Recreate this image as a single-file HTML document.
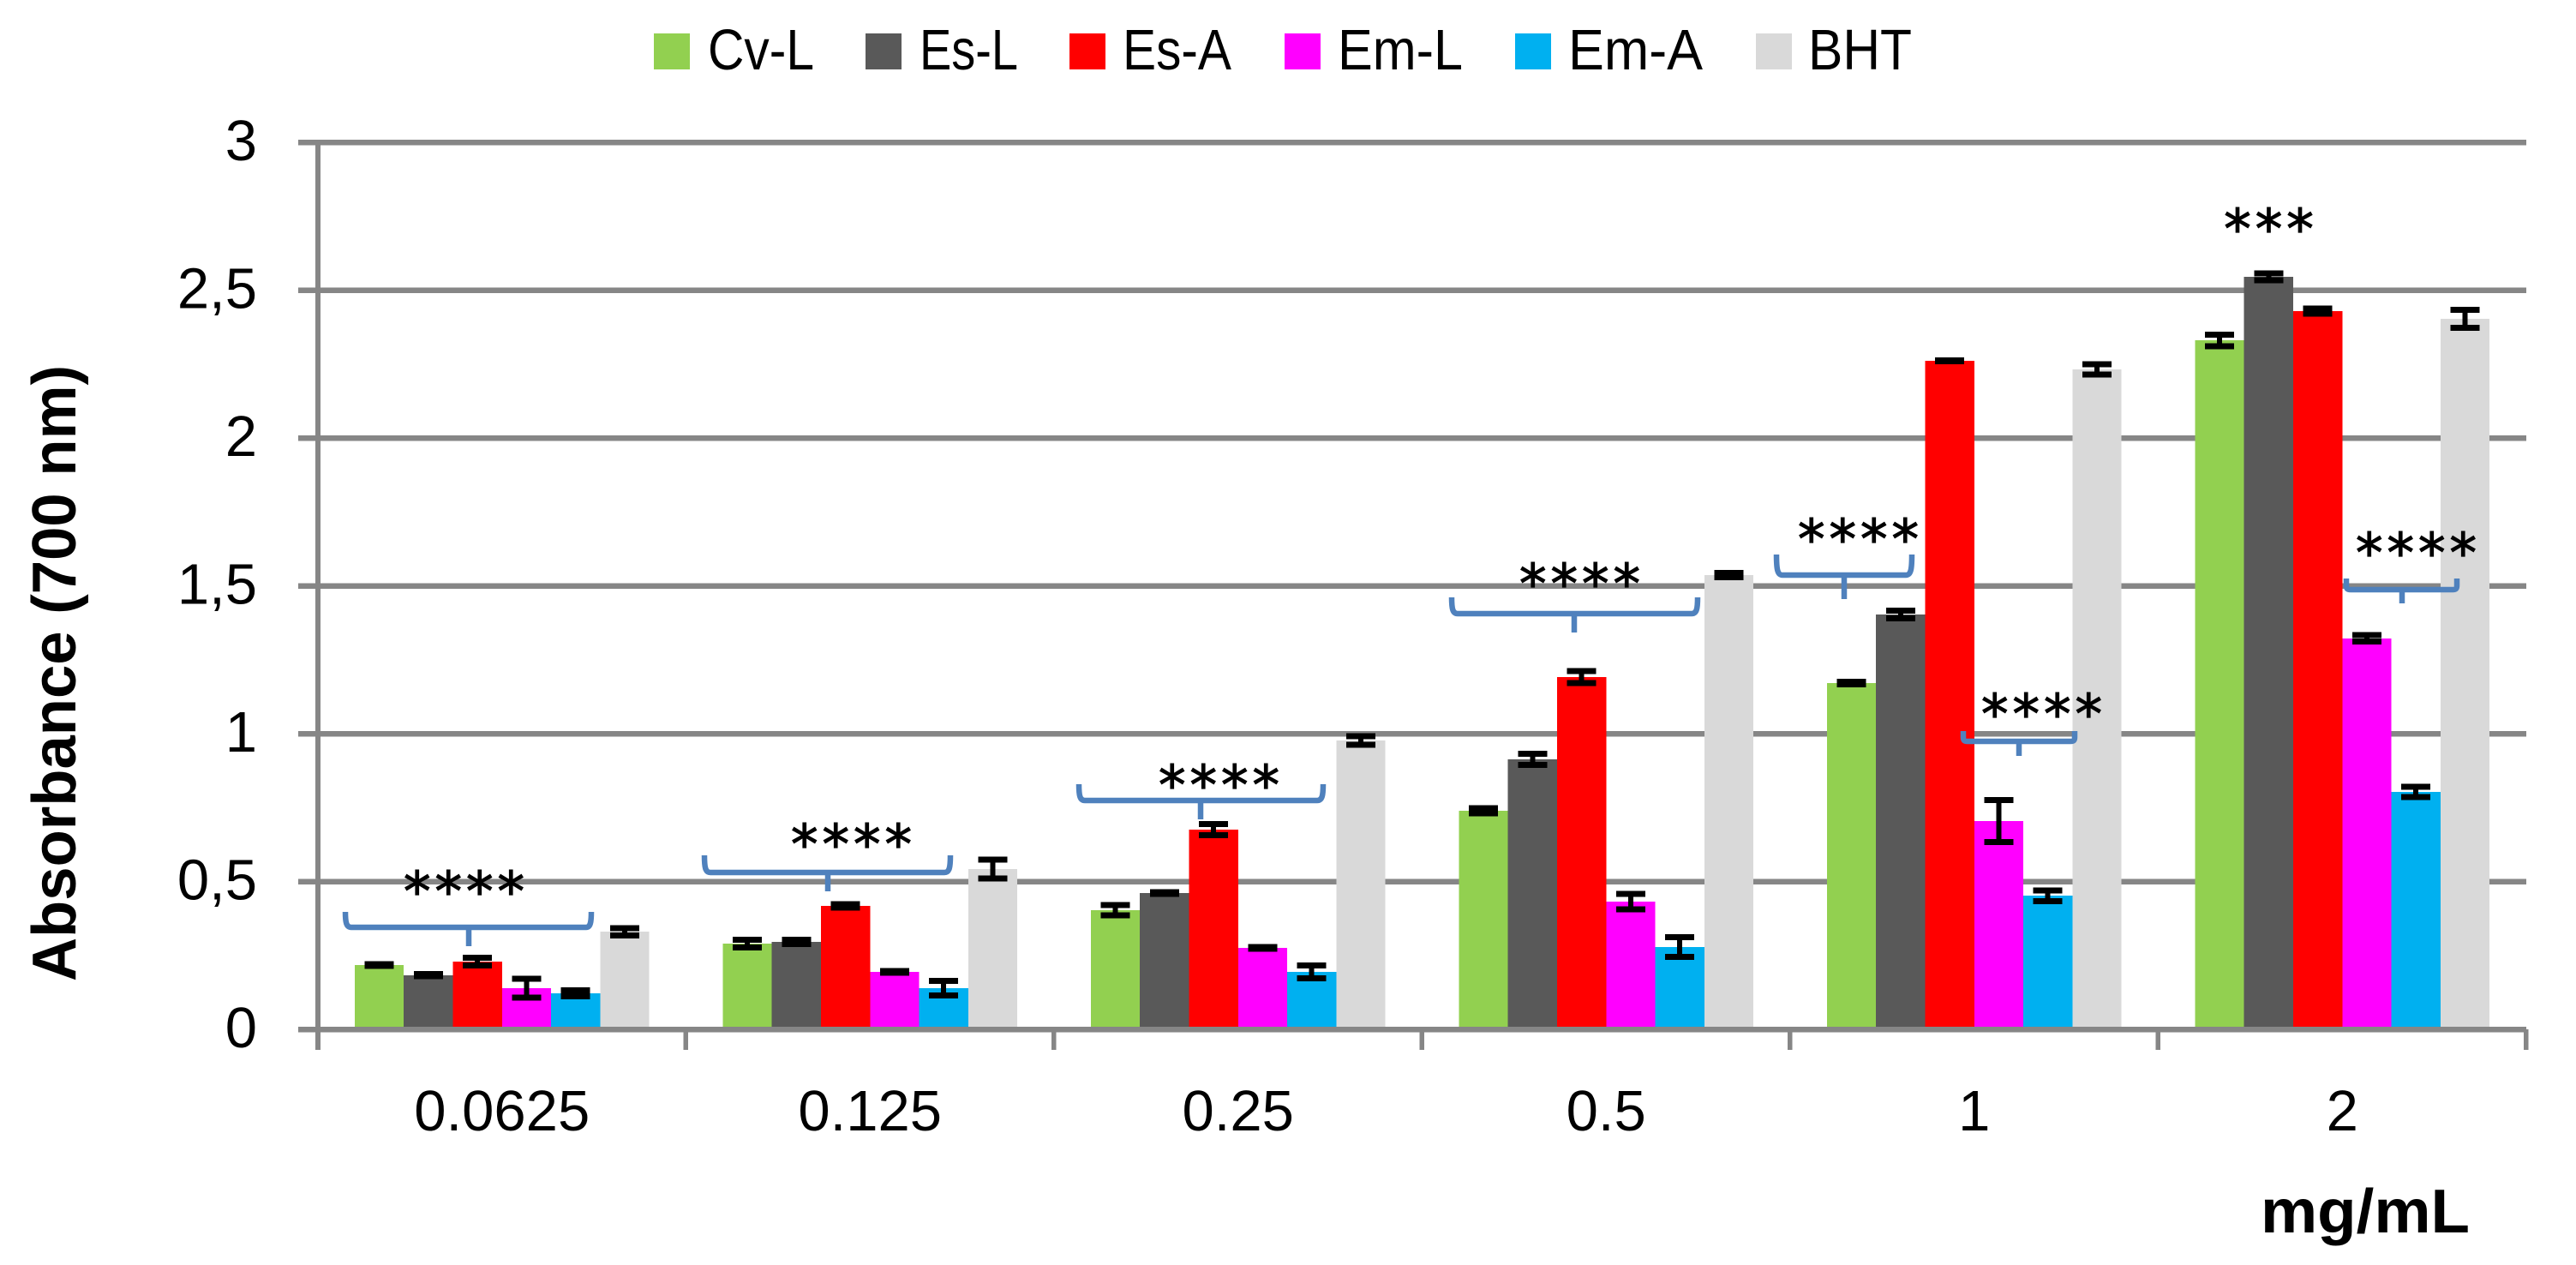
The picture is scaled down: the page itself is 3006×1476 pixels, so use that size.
<!DOCTYPE html>
<html lang="en">
<head>
<meta charset="utf-8">
<title>Absorbance chart</title>
<style>
html,body{margin:0;padding:0;background:#fff;}
svg{display:block;}
text{font-family:"Liberation Sans",sans-serif;fill:#000;}
.stars{font-family:"DejaVu Sans","Liberation Sans",sans-serif;font-size:63px;letter-spacing:5px;text-anchor:middle;stroke:#000;stroke-width:1.2px;}
.leg{font-size:67px;}
.br{fill:none;stroke:#4F81BD;stroke-width:6.5;}
</style>
</head>
<body>
<svg id="chart" xmlns="http://www.w3.org/2000/svg" width="3006" height="1476" viewBox="0 0 3006 1476">
  <g id="grid"></g>
  <g id="bars"></g>
  <g id="errs"></g>
  <g id="axes"></g>

  <g>
    <path class="br" d="M403 1064 C403 1076 404 1082 410 1082 H547 M684 1082 C689 1082 690 1076 690 1064 M410 1082 H684 M547 1082 V1104"/>
    <path class="br" d="M822 998 C822 1012 823 1018 829 1018 H1102 C1108 1018 1109 1012 1109 998 M966 1018 V1040"/>
    <path class="br" d="M1259 915 C1259 928 1260 934 1266 934 H1537 C1543 934 1544 928 1544 915 M1401 934 V956"/>
    <path class="br" d="M1694 697 C1694 710 1695 716 1701 716 H1974 C1980 716 1981 710 1981 697 M1837 716 V738"/>
    <path class="br" d="M2073 647 C2073 664 2074 671 2080 671 H2224 C2230 671 2231 664 2231 647 M2152 671 V699"/>
    <path class="br" d="M2291 853 V860 C2291 864 2292 865 2296 865 H2416 C2420 865 2421 864 2421 860 V853 M2356 865 V882"/>
    <path class="br" d="M2738 675 V683 C2738 687 2739 688 2743 688 H2862 C2866 688 2867 687 2867 683 V675 M2803 688 V704"/>
  </g>

  <g>
    <text class="stars" x="544" y="1062">****</text>
    <text class="stars" x="996" y="1007">****</text>
    <text class="stars" x="1425" y="938">****</text>
    <text class="stars" x="1846" y="703">****</text>
    <text class="stars" x="2171" y="651">****</text>
    <text class="stars" x="2385" y="855">****</text>
    <text class="stars" x="2822" y="667">****</text>
    <text class="stars" x="2650" y="289">***</text>
  </g>

  <g>
    <g><rect x="763" y="39" width="42" height="42" fill="#92D050"/><text class="leg" x="826" y="81" textLength="124" lengthAdjust="spacingAndGlyphs">Cv-L</text></g>
    <g><rect x="1010" y="39" width="42" height="42" fill="#595959"/><text class="leg" x="1073" y="81" textLength="115" lengthAdjust="spacingAndGlyphs">Es-L</text></g>
    <g><rect x="1248" y="39" width="42" height="42" fill="#FF0000"/><text class="leg" x="1310" y="81" textLength="127" lengthAdjust="spacingAndGlyphs">Es-A</text></g>
    <g><rect x="1499" y="39" width="42" height="42" fill="#FF00FF"/><text class="leg" x="1561" y="81" textLength="146" lengthAdjust="spacingAndGlyphs">Em-L</text></g>
    <g><rect x="1768" y="39" width="42" height="42" fill="#00B0F0"/><text class="leg" x="1830" y="81" textLength="157" lengthAdjust="spacingAndGlyphs">Em-A</text></g>
    <g><rect x="2049" y="39" width="42" height="42" fill="#D9D9D9"/><text class="leg" x="2110" y="81" textLength="121" lengthAdjust="spacingAndGlyphs">BHT</text></g>
  </g>

  <text transform="translate(88 1145) rotate(-90)" font-size="72" font-weight="700" textLength="719" lengthAdjust="spacingAndGlyphs">Absorbance (700 nm)</text>
  <text x="2638" y="1438" font-size="72" font-weight="700" textLength="244" lengthAdjust="spacingAndGlyphs">mg/mL</text>
</svg>
<script>
const categories = ['0.0625', '0.125', '0.25', '0.5', '1', '2'];
const seriesNames = ['Cv-L', 'Es-L', 'Es-A', 'Em-L', 'Em-A', 'BHT'];
const yTickValues = [0, 0.5, 1, 1.5, 2, 2.5, 3];
const yTickLabels = ['0', '0,5', '1', '1,5', '2', '2,5', '3'];

const cvL = [0.217, 0.290, 0.403, 0.739, 1.171, 2.330];
const esL = [0.183, 0.296, 0.461, 0.913, 1.403, 2.545];
const esA = [0.229, 0.417, 0.675, 1.191, 2.261, 2.429];
const emL = [0.139, 0.194, 0.275, 0.432, 0.704, 1.322];
const emA = [0.122, 0.139, 0.194, 0.278, 0.452, 0.803];
const bht = [0.330, 0.542, 0.977, 1.536, 2.232, 2.403];

const cvLErr = [0.003, 0.013, 0.017, 0.009, 0.005, 0.020];
const esLErr = [0.004, 0.007, 0.003, 0.019, 0.013, 0.012];
const esAErr = [0.013, 0.006, 0.019, 0.020, 0.002, 0.008];
const emLErr = [0.032, 0.003, 0.003, 0.026, 0.071, 0.011];
const emAErr = [0.010, 0.025, 0.022, 0.033, 0.018, 0.018];
const bhtErr = [0.012, 0.032, 0.014, 0.007, 0.018, 0.030];

const seriesValues = [cvL, esL, esA, emL, emA, bht];
const seriesErrors = [cvLErr, esLErr, esAErr, emLErr, emAErr, bhtErr];
const seriesColors = ['#92D050', '#595959', '#FF0000', '#FF00FF', '#00B0F0', '#D9D9D9'];

const NS = 'http://www.w3.org/2000/svg';
const AXIS = '#868686';
const PLOT_LEFT = 371, PLOT_RIGHT = 2948, Y_ZERO = 1201, Y_MAX_PX = 166, Y_MAX = 3;
const catWidth = (PLOT_RIGHT - PLOT_LEFT) / categories.length;
const barWidth = catWidth / (seriesNames.length + 1.5);

function yScale(v) { return Y_ZERO - (v / Y_MAX) * (Y_ZERO - Y_MAX_PX); }
function xCat(i) { return PLOT_LEFT + i * catWidth; }
function xBar(i, s) { return xCat(i) + 0.75 * barWidth + s * barWidth; }

function mk(tag, parent) {
  const el = document.createElementNS(NS, tag);
  parent.appendChild(el);
  return el;
}
function setRect(el, x, y, w, h, fill) {
  el.setAttribute('x', x);
  el.setAttribute('y', y);
  el.setAttribute('width', w);
  el.setAttribute('height', h);
  el.setAttribute('fill', fill);
  el.setAttribute('shape-rendering', 'crispEdges');
}

const grid = document.getElementById('grid');
const barsG = document.getElementById('bars');
const errsG = document.getElementById('errs');
const axes = document.getElementById('axes');

yTickValues.forEach(function (v, i) {
  if (v !== 0) {
    const line = mk('rect', grid);
    setRect(line, 348, yScale(v) - 3.2, PLOT_RIGHT - 348, 6.5, AXIS);
    
    
  }
  const label = mk('text', axes);
  label.setAttribute('x', 300);
  label.setAttribute('y', yScale(v) + 21);
  label.setAttribute('font-size', '67');
  label.setAttribute('text-anchor', 'end');
  label.textContent = yTickLabels[i];
  
  
});

const yAxisLine = mk('rect', grid);
setRect(yAxisLine, PLOT_LEFT - 3, Y_MAX_PX, 6, 1225 - Y_MAX_PX, AXIS);



categories.forEach(function (cat, i) {
  seriesNames.forEach(function (name, s) {
    const value = seriesValues[s][i];
    const err = seriesErrors[s][i];
    const x = xBar(i, s);
    const bar = mk('rect', barsG);
    setRect(bar, x, yScale(value), barWidth, Y_ZERO - yScale(value), seriesColors[s]);
    
    

    const cx = x + barWidth / 2;
    const top = yScale(value + err);
    const bottom = yScale(value - err);
    const stem = mk('rect', errsG);
    setRect(stem, cx - 3, top, 6, bottom - top, '#000');
    
    
    const capTop = mk('rect', errsG);
    setRect(capTop, cx - 17, top - 3.5, 34, 7, '#000');
    
    
    const capBottom = mk('rect', errsG);
    setRect(capBottom, cx - 17, bottom - 3.5, 34, 7, '#000');
    
    
  });

  const label = mk('text', axes);
  label.setAttribute('x', xCat(i) + catWidth / 2);
  label.setAttribute('y', 1319);
  label.setAttribute('font-size', '67');
  label.setAttribute('text-anchor', 'middle');
  label.textContent = cat;
  
  
});

const xAxisLine = mk('rect', axes);
setRect(xAxisLine, 348, Y_ZERO - 3, PLOT_RIGHT - 348, 6.5, AXIS);



for (let i = 1; i <= categories.length; i++) {
  const tick = mk('rect', axes);
  setRect(tick, xCat(i) - 3, Y_ZERO, 5.5, 24, AXIS);
  
  
}
</script>
</body>
</html>
